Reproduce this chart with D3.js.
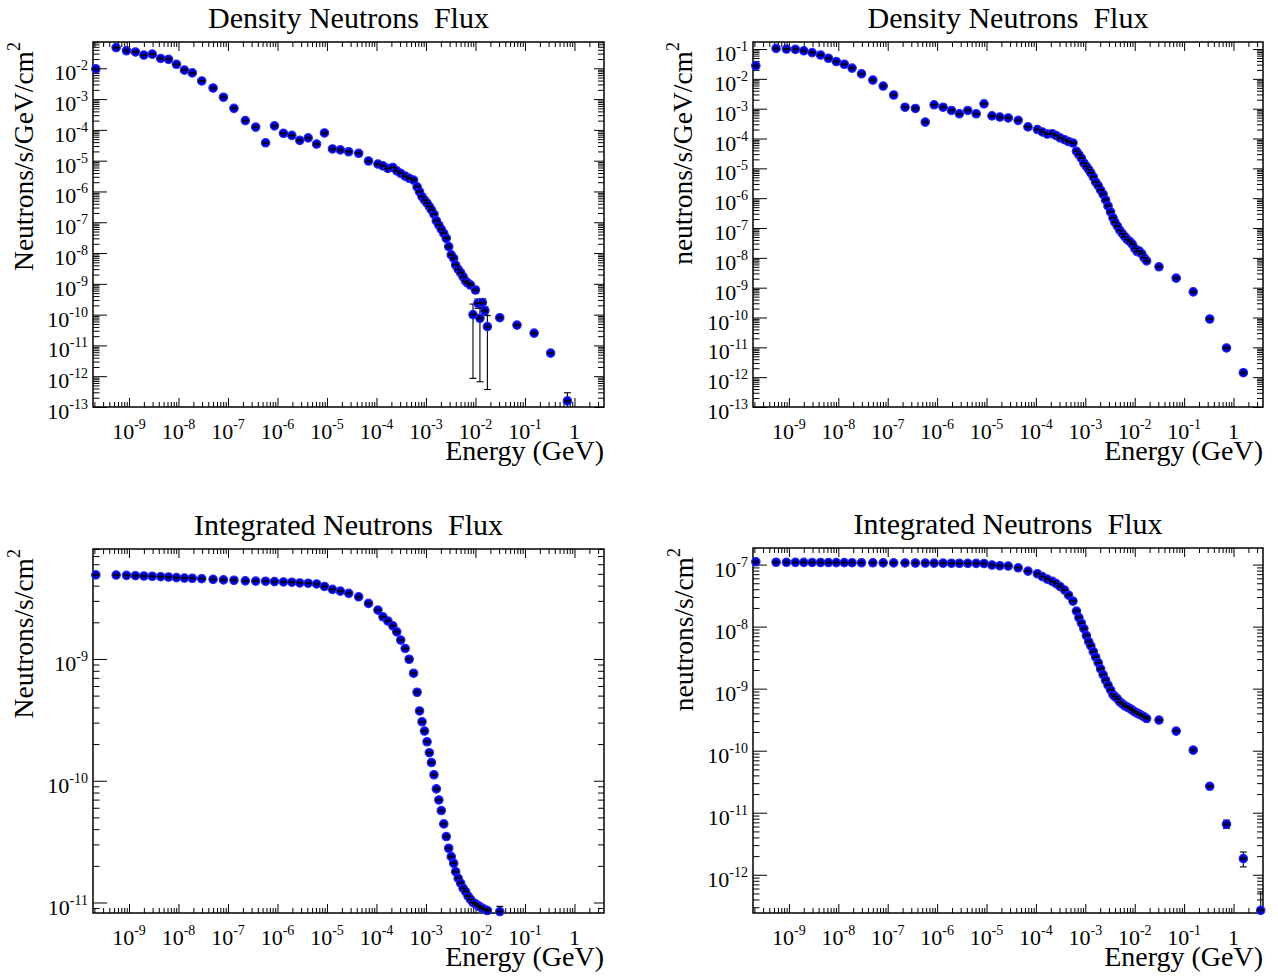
<!DOCTYPE html>
<html><head><meta charset="utf-8">
<script src="https://cdn.jsdelivr.net/npm/d3@7"></script>
<style>
body{margin:0;background:#fff}
svg{display:block;background:#fff}
text{font-family:"Liberation Serif","Times New Roman",Times,serif;fill:#000;white-space:pre}
</style>
</head><body>
<svg id="c" width="1278" height="980"></svg>
<script>
// ---------------- DATA ----------------
// Energy bin centres (GeV), shared by all four panels
const energy = [
 2.14e-10,5.5e-10,8.9e-10,1.35e-9,2.0e-9,2.95e-9,4.37e-9,6.3e-9,9.1e-9,1.32e-8,1.9e-8,2.95e-8,5.0e-8,8.1e-8,1.32e-7,2.24e-7,3.63e-7,5.75e-7,8.7e-7,1.32e-6,1.95e-6,2.82e-6,4.17e-6,6.17e-6,
 8.9e-6,1.29e-5,1.86e-5,2.75e-5,4.37e-5,6.9e-5,
 1.07e-4,1.35e-4,1.70e-4,2.14e-4,2.57e-4,3.09e-4,3.8e-4,4.57e-4,5.62e-4,
 6.61e-4,7.41e-4,8.32e-4,9.33e-4,1.05e-3,1.17e-3,1.29e-3,1.45e-3,1.62e-3,1.82e-3,2.04e-3,2.29e-3,2.57e-3,2.88e-3,3.24e-3,3.63e-3,3.98e-3,4.47e-3,5.01e-3,5.62e-3,6.31e-3,7.08e-3,7.94e-3,8.91e-3,1.0e-2,1.12e-2,1.23e-2,1.38e-2,1.55e-2,1.74e-2,
 3.1e-2,6.9e-2,0.153,0.33,0.72,1.58,3.55
];

// Panel 1: Density Neutrons Flux (Neutrons/s/GeV/cm^2)
const densityFluxA = [
 9.55e-3,4.68e-2,3.72e-2,3.39e-2,2.69e-2,2.88e-2,2.09e-2,1.95e-2,1.35e-2,8.71e-3,7.08e-3,3.89e-3,2.29e-3,1.15e-3,5.01e-4,2.0e-4,1.23e-4,3.80e-5,1.35e-4,7.76e-5,6.61e-5,4.57e-5,5.50e-5,3.47e-5,
 7.94e-5,2.40e-5,2.24e-5,1.95e-5,1.74e-5,9.77e-6,
 7.76e-6,6.76e-6,5.62e-6,6.03e-6,4.68e-6,3.89e-6,3.16e-6,2.69e-6,2.34e-6,
 1.41e-6,9.77e-7,6.76e-7,5.25e-7,4.17e-7,3.24e-7,2.51e-7,1.82e-7,1.12e-7,8.13e-8,5.89e-8,4.37e-8,3.02e-8,1.62e-8,8.71e-9,6.76e-9,4.07e-9,2.95e-9,2.29e-9,1.70e-9,1.23e-9,1.05e-9,9.12e-10,1.0e-10,6.31e-10,2.34e-10,7.59e-11,2.45e-10,1.35e-10,4.07e-11,
 7.94e-11,4.57e-11,2.51e-11,5.62e-12,1.58e-13,null,null
];
const errIndexA = [60,61,62,63,64,65,66,67,68,73];
const errLowA   = [8.3e-10,7.2e-10,8.5e-13,5.0e-10,1.6e-10,6.6e-13,1.7e-10,1.0e-10,3.7e-13,1e-15];
const errHighA  = [1.26e-9,1.12e-9,2.2e-10,7.9e-10,3.2e-10,2.6e-10,3.3e-10,1.8e-10,9.3e-11,2.9e-13];

// Panel 2: Density Neutrons Flux (neutrons/s/GeV/cm^2)
const densityFluxB = [
 2.75e-2,1.05e-1,1.0e-1,9.77e-2,8.71e-2,7.59e-2,6.31e-2,4.90e-2,3.80e-2,3.09e-2,2.29e-2,1.48e-2,9.12e-3,5.75e-3,2.88e-3,1.12e-3,1.02e-3,3.55e-4,1.35e-3,1.12e-3,8.71e-4,6.76e-4,8.71e-4,6.76e-4,
 1.45e-3,5.75e-4,5.25e-4,4.90e-4,4.07e-4,2.45e-4,
 2.0e-4,1.66e-4,1.41e-4,1.45e-4,1.26e-4,1.05e-4,9.12e-5,7.94e-5,7.08e-5,
 3.72e-5,2.88e-5,2.19e-5,1.51e-5,1.17e-5,9.12e-6,7.08e-6,5.13e-6,3.47e-6,2.63e-6,1.86e-6,1.35e-6,8.71e-7,5.50e-7,3.47e-7,2.19e-7,1.55e-7,1.15e-7,8.32e-8,6.46e-8,5.13e-8,4.07e-8,3.55e-8,2.88e-8,2.09e-8,1.62e-8,1.70e-8,1.38e-8,1.0e-8,7.94e-9,
 5.01e-9,2.09e-9,7.24e-10,8.91e-11,9.55e-12,1.41e-12,null
];
const errIndexB = [74];
const errLowB   = [1.25e-12];
const errHighB  = [1.6e-12];

// Panel 3: Integrated Neutrons Flux (Neutrons/s/cm^2)
const integratedFluxA = [
 4.90e-9,4.89e-9,4.86e-9,4.83e-9,4.80e-9,4.78e-9,4.74e-9,4.71e-9,4.66e-9,4.62e-9,4.60e-9,4.56e-9,4.51e-9,4.46e-9,4.43e-9,4.38e-9,4.36e-9,4.35e-9,4.32e-9,4.29e-9,4.27e-9,4.21e-9,4.19e-9,4.13e-9,
 3.94e-9,3.73e-9,3.61e-9,3.46e-9,3.24e-9,2.86e-9,
 2.52e-9,2.22e-9,2.05e-9,1.87e-9,1.67e-9,1.43e-9,1.22e-9,9.95e-10,7.64e-10,
 5.33e-10,3.74e-10,3.05e-10,2.56e-10,2.09e-10,1.70e-10,1.41e-10,1.12e-10,8.57e-11,6.95e-11,5.69e-11,4.42e-11,3.48e-11,2.79e-11,2.38e-11,2.10e-11,1.79e-11,1.58e-11,1.44e-11,1.31e-11,1.23e-11,1.13e-11,1.06e-11,1.00e-11,9.75e-12,9.46e-12,9.20e-12,8.97e-12,8.77e-12,8.59e-12,
 8.41e-12,null,null,null,null,null,null
];
const errIndexC = [69];
const errLowC   = [7.9e-12];
const errHighC  = [9.3e-12];

// Panel 4: Integrated Neutrons Flux (neutrons/s/cm^2)
const integratedFluxB = [
 1.109e-7,1.09e-7,1.088e-7,1.086e-7,1.084e-7,1.082e-7,1.08e-7,1.078e-7,1.076e-7,1.074e-7,1.072e-7,1.07e-7,1.068e-7,1.066e-7,1.064e-7,1.062e-7,1.06e-7,1.058e-7,1.056e-7,1.054e-7,1.052e-7,1.05e-7,1.048e-7,1.046e-7,
 1.04e-7,9.82e-8,9.57e-8,9.46e-8,8.87e-8,7.85e-8,
 7.11e-8,6.40e-8,5.83e-8,5.36e-8,4.94e-8,4.42e-8,3.88e-8,3.22e-8,2.58e-8,
 1.78e-8,1.40e-8,1.14e-8,9.29e-9,7.16e-9,5.73e-9,4.90e-9,3.95e-9,3.22e-9,2.62e-9,2.08e-9,1.68e-9,1.37e-9,1.14e-9,9.53e-10,8.00e-10,7.43e-10,6.84e-10,6.10e-10,5.69e-10,5.28e-10,5.04e-10,4.80e-10,4.50e-10,4.23e-10,4.03e-10,3.88e-10,3.70e-10,3.51e-10,3.30e-10,
 3.12e-10,2.07e-10,1.02e-10,2.67e-11,6.53e-12,1.82e-12,2.67e-13
];
const errIndexD = [73,74,75];
const errLowD   = [5.6e-12,1.34e-12,1e-15];
const errHighD  = [7.6e-12,2.33e-12,5.3e-13];

const titles  = ["Density Neutrons  Flux","Density Neutrons  Flux","Integrated Neutrons  Flux","Integrated Neutrons  Flux"];
const yTitles = ["Neutrons/s/GeV/cm","neutrons/s/GeV/cm","Neutrons/s/cm","neutrons/s/cm"];
const xTitle  = "Energy (GeV)";
const xDomain = [1.875e-10, 3.95];
const yDomains = [[1e-13,0.0715],[1e-13,0.172],[8.2e-12,8.0e-9],[2.42e-13,1.85e-7]];

// ---------------- LAYOUT ----------------
const panels = [
 {vals:densityFluxA,    ei:errIndexA, el:errLowA, eh:errHighA, box:[93,42,604,407],   ytx:33},
 {vals:densityFluxB,    ei:errIndexB, el:errLowB, eh:errHighB, box:[753,42,1263,407], ytx:692},
 {vals:integratedFluxA, ei:errIndexC, el:errLowC, eh:errHighC, box:[93,549,604,913],  ytx:33},
 {vals:integratedFluxB, ei:errIndexD, el:errLowD, eh:errHighD, box:[753,548,1263,913],ytx:693}
];

const svg = d3.select("#c");
const defs = svg.append("defs");
const isMajor = v => Math.abs(Math.log10(v) - Math.round(Math.log10(v))) < 1e-6;

panels.forEach((p, i) => {
  const [L,T,R,B] = p.box;
  const x = d3.scaleLog().domain(xDomain).range([L,R]);
  const y = d3.scaleLog().domain(yDomains[i]).range([B,T]);
  const g = svg.append("g");

  defs.append("clipPath").attr("id","clip"+i)
    .append("rect").attr("x",L).attr("y",T).attr("width",R-L).attr("height",B-T);

  // log ticks 1..9 per decade (count chosen so d3 keeps the log sub-ticks)
  const xt = x.ticks(15), yt = y.ticks(15);
  const xMaj = xt.filter(isMajor), xMin = xt.filter(v=>!isMajor(v));
  const yMaj = yt.filter(isMajor), yMin = yt.filter(v=>!isMajor(v));

  const addAxis = (axis, tr, vals, size) => {
    const a = g.append("g").attr("transform", tr)
      .call(axis.tickValues(vals).tickSizeInner(-size).tickSizeOuter(0).tickFormat(()=>""));
    a.select(".domain").remove();
    a.selectAll("text").remove();
    a.selectAll("line").attr("stroke","#000").attr("stroke-width",1);
  };
  addAxis(d3.axisBottom(x), `translate(0,${B})`, xMaj, 9);
  addAxis(d3.axisBottom(x), `translate(0,${B})`, xMin, 5);
  addAxis(d3.axisTop(x),    `translate(0,${T})`, xMaj, 9);
  addAxis(d3.axisTop(x),    `translate(0,${T})`, xMin, 5);
  addAxis(d3.axisLeft(y),   `translate(${L},0)`, yMaj, 14);
  addAxis(d3.axisLeft(y),   `translate(${L},0)`, yMin, 6.5);
  addAxis(d3.axisRight(y),  `translate(${R},0)`, yMaj, 10);
  addAxis(d3.axisRight(y),  `translate(${R},0)`, yMin, 6);

  g.append("rect").attr("x",L).attr("y",T).attr("width",R-L).attr("height",B-T)
    .attr("fill","none").attr("stroke","#000").attr("stroke-width",1.5);

  // x tick labels
  xMaj.forEach(v => {
    const k = Math.round(Math.log10(v));
    const t = g.append("text").attr("x", x(v)).attr("y", B+32)
      .attr("text-anchor","middle").attr("font-size",22);
    if (k === 0) t.text("1");
    else { t.append("tspan").text("10"); t.append("tspan").attr("dy",-10).attr("font-size",14).text(String(k)); }
  });
  // y tick labels
  yMaj.forEach(v => {
    const k = Math.round(Math.log10(v));
    const t = g.append("text").attr("x", L-5).attr("y", y(v)+12)
      .attr("text-anchor","end").attr("font-size",22);
    if (k === 0) t.text("1");
    else { t.append("tspan").text("10"); t.append("tspan").attr("dy",-10).attr("font-size",14).text(String(k)); }
  });

  // titles
  g.append("text").attr("x",(L+R)/2).attr("y",T-14.5).attr("text-anchor","middle")
    .attr("xml:space","preserve").attr("font-size",30).text(titles[i]);
  g.append("text").attr("x",R).attr("y",B+53).attr("text-anchor","end")
    .attr("font-size",28).text(xTitle);
  const yt2 = g.append("text").attr("transform",`translate(${p.ytx},${T}) rotate(-90)`)
    .attr("text-anchor","end").attr("font-size",27.5);
  yt2.append("tspan").text(yTitles[i]);
  yt2.append("tspan").attr("dy",-13).attr("font-size",18).text("2");

  // error bars
  const eg = g.append("g").attr("clip-path",`url(#clip${i})`)
    .attr("stroke","#000").attr("stroke-width",1.1);
  p.ei.forEach((j,m) => {
    const cx = x(energy[j]), y1 = y(p.el[m]), y2 = y(p.eh[m]);
    eg.append("line").attr("x1",cx).attr("x2",cx).attr("y1",y1).attr("y2",y2);
    eg.append("line").attr("x1",cx-3.5).attr("x2",cx+3.5).attr("y1",y1).attr("y2",y1);
    eg.append("line").attr("x1",cx-3.5).attr("x2",cx+3.5).attr("y1",y2).attr("y2",y2);
  });

  // markers
  const pts = energy.map((e,j)=>({e, v:p.vals[j]})).filter(d => d.v != null);
  const mg = g.append("g");
  mg.selectAll("circle").data(pts).join("circle")
    .attr("cx", d=>x(d.e)).attr("cy", d=>y(d.v)).attr("r",4.2)
    .attr("fill","#0000b0").attr("stroke","#2424ff").attr("stroke-width",1.2);
  mg.selectAll("line").data(pts).join("line")
    .attr("x1", d=>x(d.e)-3.4).attr("x2", d=>x(d.e)+3.4)
    .attr("y1", d=>y(d.v)).attr("y2", d=>y(d.v))
    .attr("stroke","#000").attr("stroke-width",1.6);
});
</script>
</body></html>
